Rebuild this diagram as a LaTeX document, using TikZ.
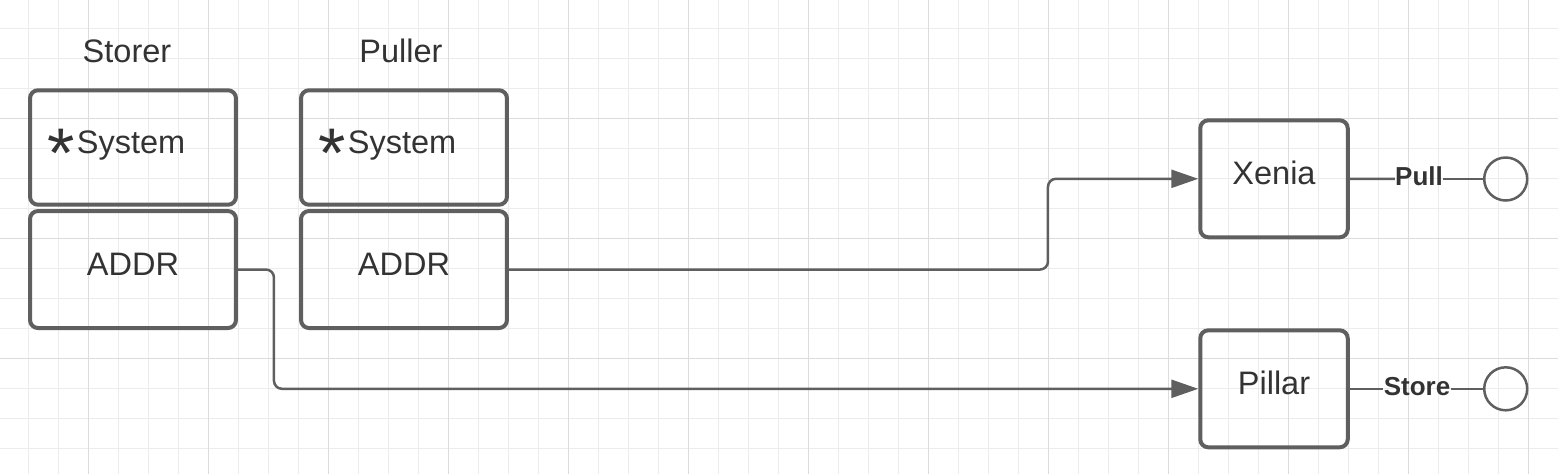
\documentclass[tikz,border=0pt]{standalone}
\usepackage{fontspec}
\setmainfont{Liberation Sans}
\usepackage{tikz}
\usetikzlibrary{arrows.meta, positioning}
\definecolor{boxgray}{RGB}{95, 95, 95}
\definecolor{txtgray}{RGB}{51, 51, 51}
\definecolor{gridminor}{RGB}{236, 236, 236}
\definecolor{gridmajor}{RGB}{220, 220, 220}

\tikzset{
  unitbox/.style={draw=boxgray, line width=0.08cm, rounded corners=0.16cm, text=txtgray,
    font=\fontsize{18.5}{22}\selectfont, text height=0.71em, text depth=0.05em, inner sep=0pt},
  sysbox/.style={unitbox, minimum height=2.29cm, text width=3.44cm, inner xsep=0.34cm, align=left},
  addrbox/.style={unitbox, minimum width=4.12cm, minimum height=2.34cm},
  svcbox/.style={unitbox, minimum width=2.95cm, minimum height=2.34cm},
  title/.style={text=txtgray, font=\fontsize{18.5}{22}\selectfont, text height=0.71em, text depth=0pt, inner sep=0pt},
  opname/.style={text=txtgray, font=\bfseries\fontsize{14.8}{18}\selectfont, text height=0.71em, text depth=0pt, inner sep=0pt},
  endpoint/.style={circle, draw=boxgray, line width=0.05cm, minimum size=0.86cm, inner sep=0pt},
  wire/.style={draw=boxgray, line width=0.05cm},
  link/.style={wire, rounded corners=0.16cm, -{Triangle[length=0.54cm, width=0.36cm]}}
}
\newcommand{\astmark}{{\fontsize{40}{40}\selectfont\raisebox{-0.34em}{*}}\hspace{0.05cm}}

\begin{document}
\begin{tikzpicture}[x=0.02cm, y=-0.02cm]
  \useasboundingbox (0,0) rectangle (1558,474);
  \foreach \gx in {0,...,50}
    \draw[gridminor, line width=0.02cm] ({28.3+30*\gx},0) -- ({28.3+30*\gx},474);
  \foreach \gy in {0,...,14}
    \draw[gridminor, line width=0.02cm] (0,{28.3+30*\gy}) -- (1558,{28.3+30*\gy});
  \foreach \gx in {0,...,12}
    \draw[gridmajor, line width=0.02cm] ({88.3+120*\gx},0) -- ({88.3+120*\gx},474);
  \foreach \gy in {0,1,2}
    \draw[gridmajor, line width=0.02cm] (0,{118.3+120*\gy}) -- (1558,{118.3+120*\gy});

  \node[sysbox] (storersys) at (133,147.5) {\astmark System};
  \node[addrbox, below=0.046cm of storersys] (storeraddr) {ADDR};
  \node[title, above=0.5cm of storersys, xshift=-0.12cm] (storertitle) {Storer};

  \node[sysbox] (pullersys) at (404,147.5) {\astmark System};
  \node[addrbox, below=0.046cm of pullersys] (pulleraddr) {ADDR};
  \node[title, above=0.5cm of pullersys, xshift=-0.06cm] (pullertitle) {Puller};

  \node[svcbox] (xenia) at (1274,178.8) {Xenia};
  \node[svcbox] (pillar) at (1274,388.8) {Pillar};

  \node[opname] (pull) at (1419,179) {Pull};
  \node[opname] (store) at (1417,388.8) {Store};
  \node[endpoint] (pullend) at (1505.7,179) {};
  \node[endpoint] (storeend) at (1505.7,388.8) {};

  \draw[link] (storeraddr.east) -- ++(36,0) |- (pillar.west);
  \draw[link] (pulleraddr.east) -- ++(539,0) |- (xenia.west);
  \draw[wire] (xenia.east) -- (pull);
  \draw[wire] (pull) -- (pullend);
  \draw[wire] (pillar.east) -- (store);
  \draw[wire] (store) -- (storeend);
\end{tikzpicture}
\end{document}
